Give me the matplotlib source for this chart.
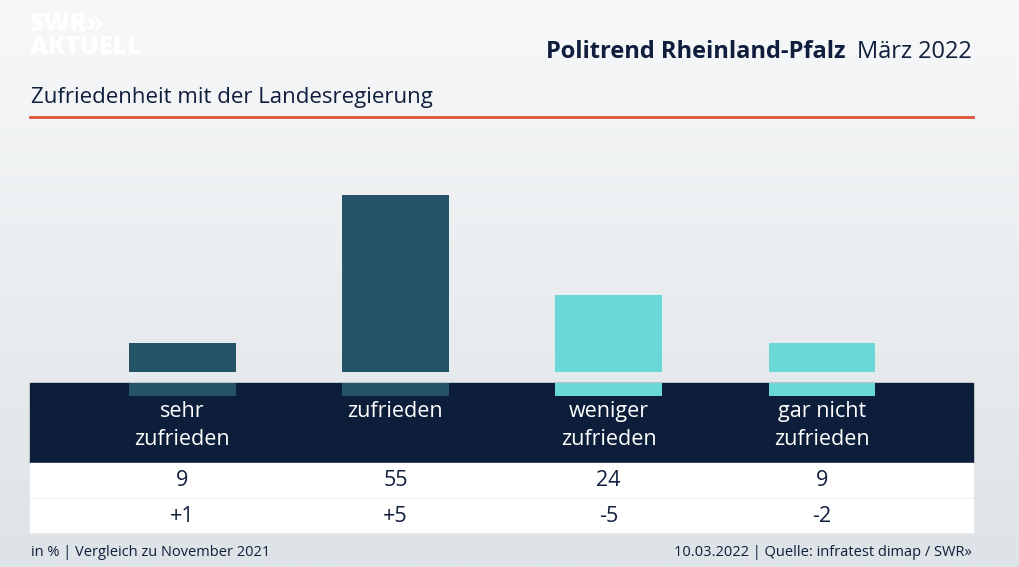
import matplotlib.pyplot as plt
import numpy as np

categories = ["sehr\nzufrieden", "zufrieden", "weniger\nzufrieden", "gar nicht\nzufrieden"]
values = [9, 55, 24, 9]
changes = ["+1", "+5", "-5", "-2"]
colors = ["#255468", "#255468", "#6ad8d6", "#6ad8d6"]

W, H = 1019, 567
plt.rcParams["font.family"] = ["Open Sans", "DejaVu Sans"]
fig = plt.figure(figsize=(W / 100, H / 100), dpi=100)

# background canvas in pixel coords
bg = fig.add_axes([0, 0, 1, 1])
bg.set_xlim(0, W)
bg.set_ylim(H, 0)
bg.axis("off")
grad = np.linspace(0, 1, 256).reshape(-1, 1)
bg.imshow(grad, extent=[0, W, H, 0], aspect="auto", zorder=0,
          cmap=plt.matplotlib.colors.LinearSegmentedColormap.from_list("g", ["#f7f8f9", "#dde3e6"]))
bg.add_patch(plt.Rectangle((30, 383), 943, 80, color="#0c1e3a", zorder=1))
bg.add_patch(plt.Rectangle((30, 463), 943, 34, color="white", zorder=1))
bg.add_patch(plt.Rectangle((30, 499), 943, 33, color="white", zorder=1))
bg.plot([30, 973], [117, 117], color="#e0533a", lw=2, zorder=2)

navy = "#0f1e3c"
bg.text(30, 36, "SWR»\nAKTUELL", color="white", fontsize=18, fontweight="heavy",
        va="center", linespacing=0.9)
bg.text(972, 52, "März 2022", ha="right", va="center", fontsize=17, color=navy)
bg.text(846, 52, "Politrend Rheinland-Pfalz", ha="right", va="center", fontsize=17,
        color=navy, fontweight="bold")
bg.text(31, 97, "Zufriedenheit mit der Landesregierung", va="center", fontsize=16, color=navy)
bg.text(31, 553, "in % | Vergleich zu November 2021", va="center", fontsize=10.5, color=navy)
bg.text(972, 553, "10.03.2022 | Quelle: infratest dimap / SWR»", ha="right", va="center",
        fontsize=10.5, color=navy)

# bar axes: x 30..973 px, y from 396 px (bottom) up
scale = 177 / 55  # px per unit
ymin = -24 / scale
ytop = ymin + 396 / scale
ax = fig.add_axes([30 / W, 1 - 396 / H, 943 / W, 396 / H])
ax.set_xlim(-0.714, 3.709)
ax.set_ylim(ymin, ytop)
ax.axis("off")
ax.patch.set_alpha(0)
x = np.arange(len(values))
ax.bar(x, values, width=0.5, color=colors)
ax.bar(x, [13 / scale] * 4, bottom=ymin, width=0.5, color=colors)

xpx = 30 + (x + 0.714) * 943 / 4.423
for xp, cat, v, c in zip(xpx, categories, values, changes):
    bg.text(xp, 401, cat, ha="center", va="top", color="white", fontsize=15.5, linespacing=1.45, zorder=3)
    bg.text(xp, 481, str(v), ha="center", va="center", color=navy, fontsize=15.5, zorder=3)
    bg.text(xp, 516, c, ha="center", va="center", color=navy, fontsize=15.5, zorder=3)

fig.savefig("out.png", dpi=100)
